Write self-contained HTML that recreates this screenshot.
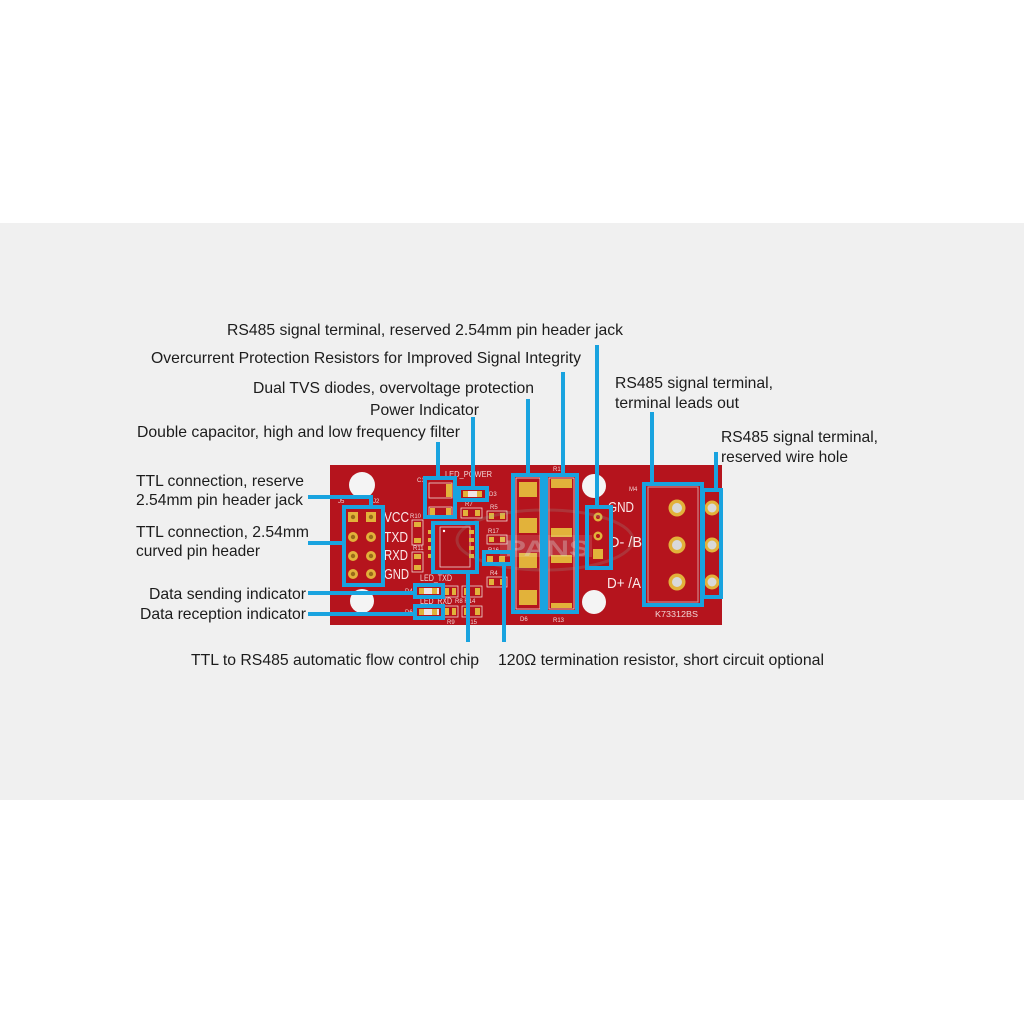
<!DOCTYPE html>
<html>
<head>
<meta charset="utf-8">
<style>
html,body{margin:0;padding:0;background:#fff;}
svg{display:block;}
.lbl{font-family:"Liberation Sans",Arial,sans-serif;font-size:16px;fill:#1c1c1c;}
.silk{font-family:"Liberation Sans",Arial,sans-serif;font-size:6px;fill:#f1d6d6;}
.wt{font-family:"Liberation Sans",Arial,sans-serif;font-size:15px;fill:#fbeaea;}
</style>
</head>
<body>
<svg width="1024" height="1024" viewBox="0 0 1024 1024" xmlns="http://www.w3.org/2000/svg">
  <rect x="0" y="0" width="1024" height="1024" fill="#ffffff"/>
  <rect x="0" y="223" width="1024" height="577" fill="#f0f0f0"/>

  <!-- PCB -->
  <rect x="330" y="465" width="392" height="160" fill="#b5141d"/>

  <!-- mounting holes -->
  <circle cx="362" cy="485" r="13" fill="#f4f4f4"/>
  <circle cx="362" cy="601" r="12" fill="#f4f4f4"/>
  <circle cx="594" cy="486" r="12" fill="#f4f4f4"/>
  <circle cx="594" cy="602" r="12" fill="#f4f4f4"/>

  <!-- header pins -->
  <g>
    <rect x="348" y="512" width="10" height="10" fill="#e2b23a"/>
    <rect x="366" y="512" width="10" height="10" fill="#e2b23a"/>
    <circle cx="353" cy="517" r="2.2" fill="#9a6b1a"/>
    <circle cx="371" cy="517" r="2.2" fill="#9a6b1a"/>
    <circle cx="353" cy="537" r="5" fill="#e2b23a"/><circle cx="353" cy="537" r="2.2" fill="#9a6b1a"/>
    <circle cx="371" cy="537" r="5" fill="#e2b23a"/><circle cx="371" cy="537" r="2.2" fill="#9a6b1a"/>
    <circle cx="353" cy="556" r="5" fill="#e2b23a"/><circle cx="353" cy="556" r="2.2" fill="#9a6b1a"/>
    <circle cx="371" cy="556" r="5" fill="#e2b23a"/><circle cx="371" cy="556" r="2.2" fill="#9a6b1a"/>
    <circle cx="353" cy="574" r="5" fill="#e2b23a"/><circle cx="353" cy="574" r="2.2" fill="#9a6b1a"/>
    <circle cx="371" cy="574" r="5" fill="#e2b23a"/><circle cx="371" cy="574" r="2.2" fill="#9a6b1a"/>
  </g>
  <text class="wt" x="384" y="522" textLength="25" lengthAdjust="spacingAndGlyphs">VCC</text>
  <text class="wt" x="384" y="542" textLength="24" lengthAdjust="spacingAndGlyphs">TXD</text>
  <text class="wt" x="384" y="560" textLength="24" lengthAdjust="spacingAndGlyphs">RXD</text>
  <text class="wt" x="384" y="579" textLength="25" lengthAdjust="spacingAndGlyphs">GND</text>
  <text class="silk" x="338" y="503">J5</text>
  <text class="silk" x="373" y="503">J2</text>

  <!-- C1 capacitors -->
  <rect x="429" y="483" width="23" height="15" fill="none" stroke="#f1d6d6" stroke-width="0.8"/>
  <rect x="446" y="484" width="6" height="13" fill="#e2b23a"/>
  <rect x="429" y="507" width="23" height="9" fill="none" stroke="#f1d6d6" stroke-width="0.8"/>
  <rect x="430" y="508" width="5" height="7" fill="#e2b23a"/>
  <rect x="446" y="508" width="5" height="7" fill="#e2b23a"/>
  <text class="silk" x="417" y="482">C1</text>

  <!-- Power LED -->
  <rect x="463" y="491" width="19" height="6" fill="#f1e4e4"/>
  <rect x="463" y="491" width="5" height="6" fill="#e2b23a"/>
  <rect x="477" y="491" width="5" height="6" fill="#e2b23a"/>
  <text class="silk" x="445" y="477" textLength="47" lengthAdjust="spacingAndGlyphs" style="font-size:8px">LED_POWER</text>
  <text class="silk" x="489" y="496">D3</text>

  <!-- small resistors -->
  <g fill="#e2b23a">
    <rect x="461" y="508" width="21" height="10" fill="none" stroke="#f1d6d6" stroke-width="0.8"/>
    <rect x="463" y="510" width="5" height="6"/><rect x="475" y="510" width="5" height="6"/>
    <rect x="487" y="511" width="20" height="10" fill="none" stroke="#f1d6d6" stroke-width="0.8"/>
    <rect x="489" y="513" width="5" height="6"/><rect x="500" y="513" width="5" height="6"/>
    <rect x="487" y="535" width="20" height="9" fill="none" stroke="#f1d6d6" stroke-width="0.8"/>
    <rect x="489" y="537" width="5" height="5"/><rect x="500" y="537" width="5" height="5"/>
    <rect x="487" y="556" width="6" height="6"/><rect x="499" y="556" width="6" height="6"/>
    <rect x="487" y="577" width="20" height="10" fill="none" stroke="#f1d6d6" stroke-width="0.8"/>
    <rect x="489" y="579" width="5" height="6"/><rect x="500" y="579" width="5" height="6"/>
    <rect x="412" y="520" width="11" height="25" fill="none" stroke="#f1d6d6" stroke-width="0.8"/>
    <rect x="414" y="522" width="7" height="5"/><rect x="414" y="538" width="7" height="5"/>
    <rect x="412" y="552" width="11" height="20" fill="none" stroke="#f1d6d6" stroke-width="0.8"/>
    <rect x="414" y="554" width="7" height="5"/><rect x="414" y="565" width="7" height="5"/>
    <rect x="443" y="586" width="15" height="11" fill="none" stroke="#f1d6d6" stroke-width="0.8"/>
    <rect x="445" y="588" width="4" height="7"/><rect x="452" y="588" width="4" height="7"/>
    <rect x="462" y="586" width="20" height="11" fill="none" stroke="#f1d6d6" stroke-width="0.8"/>
    <rect x="464" y="588" width="5" height="7"/><rect x="475" y="588" width="5" height="7"/>
    <rect x="443" y="606" width="15" height="11" fill="none" stroke="#f1d6d6" stroke-width="0.8"/>
    <rect x="445" y="608" width="4" height="7"/><rect x="452" y="608" width="4" height="7"/>
    <rect x="462" y="606" width="20" height="11" fill="none" stroke="#f1d6d6" stroke-width="0.8"/>
    <rect x="464" y="608" width="5" height="7"/><rect x="475" y="608" width="5" height="7"/>
    <rect x="419" y="588" width="20" height="6" fill="#f1e4e4"/>
    <rect x="419" y="588" width="5" height="6"/><rect x="432" y="588" width="5" height="6"/>
    <rect x="419" y="609" width="20" height="6" fill="#f1e4e4"/>
    <rect x="419" y="609" width="5" height="6"/><rect x="432" y="609" width="5" height="6"/>
  </g>
  <text class="silk" x="465" y="506">R7</text>
  <text class="silk" x="490" y="509">R5</text>
  <text class="silk" x="410" y="518">R10</text>
  <text class="silk" x="413" y="550">R11</text>
  <text class="silk" x="488" y="533">R17</text>
  <text class="silk" x="488" y="552">R16</text>
  <text class="silk" x="490" y="575">R4</text>
  <text class="silk" x="420" y="581" textLength="32" lengthAdjust="spacingAndGlyphs" style="font-size:9px">LED_TXD</text>
  <text class="silk" x="405" y="593">D4</text>
  <text class="silk" x="420" y="604" textLength="32" lengthAdjust="spacingAndGlyphs" style="font-size:9px">LED_RXD</text>
  <text class="silk" x="455" y="603">R8 R14</text>
  <text class="silk" x="405" y="614">D6</text>
  <text class="silk" x="447" y="624">R9</text>
  <text class="silk" x="466" y="624">R15</text>

  <!-- Chip -->
  <rect x="440" y="527" width="30" height="40" fill="#ad121a" stroke="#f1d6d6" stroke-width="0.8"/>
  <circle cx="444" cy="531" r="1.2" fill="#fff"/>
  <g fill="#e2b23a">
    <rect x="428" y="530" width="6" height="4"/><rect x="428" y="538" width="6" height="4"/>
    <rect x="428" y="546" width="6" height="4"/><rect x="428" y="554" width="6" height="4"/>
    <rect x="469" y="530" width="5" height="4"/><rect x="469" y="538" width="5" height="4"/>
    <rect x="469" y="546" width="5" height="4"/><rect x="469" y="554" width="5" height="4"/>
  </g>

  <!-- TVS pads -->
  <rect x="516" y="478" width="24" height="131" fill="none" stroke="#f1d6d6" stroke-width="0.8"/>
  <g fill="#e2b23a">
    <rect x="519" y="482" width="18" height="15"/>
    <rect x="519" y="518" width="18" height="15"/>
    <rect x="519" y="553" width="18" height="15"/>
    <rect x="519" y="590" width="18" height="15"/>
  </g>
  <!-- R13 pads -->
  <rect x="549" y="478" width="25" height="131" fill="none" stroke="#f1d6d6" stroke-width="0.8"/>
  <g fill="#e2b23a">
    <rect x="551" y="479" width="21" height="9"/>
    <rect x="551" y="528" width="21" height="9"/>
    <rect x="551" y="555" width="21" height="8"/>
    <rect x="551" y="603" width="21" height="5"/>
  </g>
  <text class="silk" x="553" y="471">R1</text>
  <text class="silk" x="520" y="621">D6</text>
  <text class="silk" x="553" y="622">R13</text>

  <!-- jack pins -->
  <circle cx="598" cy="517" r="4.5" fill="#e2b23a"/><circle cx="598" cy="517" r="2" fill="#b5141d"/>
  <circle cx="598" cy="536" r="4.5" fill="#e2b23a"/><circle cx="598" cy="536" r="2" fill="#b5141d"/>
  <rect x="593" y="549" width="10" height="10" fill="#e2b23a"/>
  <text class="wt" x="608" y="512" textLength="26" lengthAdjust="spacingAndGlyphs">GND</text>
  <text class="wt" x="609" y="547" textLength="33" lengthAdjust="spacingAndGlyphs">D- /B</text>
  <text class="wt" x="607" y="588" textLength="34" lengthAdjust="spacingAndGlyphs">D+ /A</text>

  <!-- terminal block -->
  <rect x="648" y="487" width="50" height="115" fill="none" stroke="#d89a9a" stroke-width="1"/>
  <g>
    <circle cx="677" cy="508" r="8.5" fill="#e2b23a"/><circle cx="677" cy="508" r="5" fill="#d9d9d9"/>
    <circle cx="677" cy="545" r="8.5" fill="#e2b23a"/><circle cx="677" cy="545" r="5" fill="#d9d9d9"/>
    <circle cx="677" cy="582" r="8.5" fill="#e2b23a"/><circle cx="677" cy="582" r="5" fill="#d9d9d9"/>
    <circle cx="712" cy="508" r="7.5" fill="#e2b23a"/><circle cx="712" cy="508" r="4.5" fill="#d9d9d9"/>
    <circle cx="712" cy="545" r="7.5" fill="#e2b23a"/><circle cx="712" cy="545" r="4.5" fill="#d9d9d9"/>
    <circle cx="712" cy="582" r="7.5" fill="#e2b23a"/><circle cx="712" cy="582" r="4.5" fill="#d9d9d9"/>
  </g>
  <text class="silk" x="629" y="491">M4</text>
  <text class="silk" x="655" y="617" textLength="43" lengthAdjust="spacingAndGlyphs" style="font-size:8px">K73312BS</text>

  <!-- watermark (subtle) -->
  <ellipse cx="545" cy="540" rx="88" ry="30" fill="none" stroke="#8fb3a8" stroke-width="3" opacity="0.2"/>
  <rect x="500" y="535" width="92" height="22" fill="#ffffff" opacity="0.12"/>
  <text x="505" y="556" font-family="Liberation Sans, Arial, sans-serif" font-size="22" font-weight="bold" fill="#d8d8d8" opacity="0.35" textLength="85" lengthAdjust="spacingAndGlyphs">PANS</text>

  <!-- blue callout boxes -->
  <g fill="none" stroke="#19a3df" stroke-width="4">
    <rect x="344" y="507" width="39" height="78"/>
    <rect x="425" y="478" width="30" height="39"/>
    <rect x="459" y="488" width="28" height="12"/>
    <rect x="433" y="523" width="44" height="49"/>
    <rect x="484" y="552" width="28" height="12"/>
    <rect x="415" y="585" width="28" height="12"/>
    <rect x="415" y="606" width="28" height="12"/>
    <rect x="513" y="475" width="29" height="137"/>
    <rect x="546" y="475" width="31" height="137"/>
    <rect x="587" y="507" width="24" height="61"/>
    <rect x="644" y="484" width="58" height="121"/>
    <rect x="703" y="490" width="18" height="107"/>
    <path d="M597,345 V507"/>
    <path d="M563,372 V475"/>
    <path d="M528,399 V475"/>
    <path d="M473,417 V488"/>
    <path d="M438,442 V478"/>
    <path d="M652,412 V484"/>
    <path d="M716,452 V490"/>
    <path d="M308,497 H371 V507"/>
    <path d="M308,543 H344"/>
    <path d="M308,593 H415"/>
    <path d="M308,614 H415"/>
    <path d="M468,572 V642"/>
    <path d="M504,564 V642"/>
  </g>

  <!-- labels -->
  <text class="lbl" x="227" y="335" textLength="396" lengthAdjust="spacingAndGlyphs">RS485 signal terminal, reserved 2.54mm pin header jack</text>
  <text class="lbl" x="151" y="363" textLength="430" lengthAdjust="spacingAndGlyphs">Overcurrent Protection Resistors for Improved Signal Integrity</text>
  <text class="lbl" x="253" y="393" textLength="281" lengthAdjust="spacingAndGlyphs">Dual TVS diodes, overvoltage protection</text>
  <text class="lbl" x="370" y="415" textLength="109" lengthAdjust="spacingAndGlyphs">Power Indicator</text>
  <text class="lbl" x="137" y="437" textLength="323" lengthAdjust="spacingAndGlyphs">Double capacitor, high and low frequency filter</text>

  <text class="lbl" x="615" y="388" textLength="158" lengthAdjust="spacingAndGlyphs">RS485 signal terminal,</text>
  <text class="lbl" x="615" y="408" textLength="124" lengthAdjust="spacingAndGlyphs">terminal leads out</text>
  <text class="lbl" x="721" y="442" textLength="157" lengthAdjust="spacingAndGlyphs">RS485 signal terminal,</text>
  <text class="lbl" x="721" y="462" textLength="127" lengthAdjust="spacingAndGlyphs">reserved wire hole</text>

  <text class="lbl" x="136" y="486" textLength="168" lengthAdjust="spacingAndGlyphs">TTL connection, reserve</text>
  <text class="lbl" x="136" y="505" textLength="167" lengthAdjust="spacingAndGlyphs">2.54mm pin header jack</text>
  <text class="lbl" x="136" y="537" textLength="173" lengthAdjust="spacingAndGlyphs">TTL connection, 2.54mm</text>
  <text class="lbl" x="136" y="556" textLength="124" lengthAdjust="spacingAndGlyphs">curved pin header</text>
  <text class="lbl" x="149" y="599" textLength="157" lengthAdjust="spacingAndGlyphs">Data sending indicator</text>
  <text class="lbl" x="140" y="619" textLength="166" lengthAdjust="spacingAndGlyphs">Data reception indicator</text>

  <text class="lbl" x="191" y="665" textLength="288" lengthAdjust="spacingAndGlyphs">TTL to RS485 automatic flow control chip</text>
  <text class="lbl" x="498" y="665" textLength="326" lengthAdjust="spacingAndGlyphs">120Ω termination resistor, short circuit optional</text>
</svg>
</body>
</html>
